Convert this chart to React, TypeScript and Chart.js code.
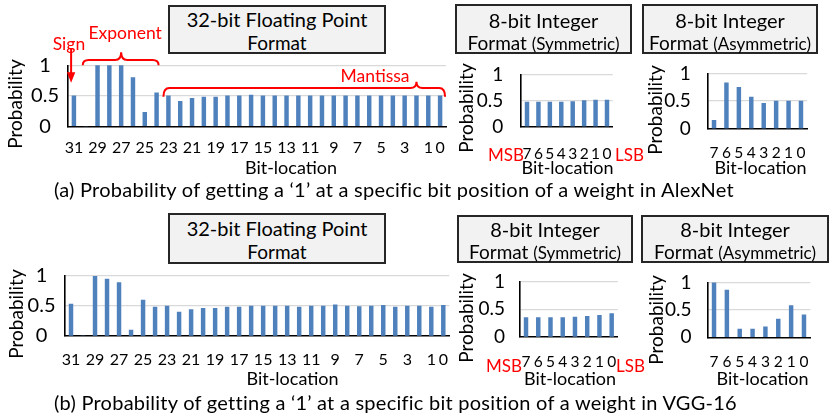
import React, { useEffect, useRef } from 'react';
import { Chart, registerables } from 'chart.js';

Chart.register(...registerables);

const FONT = 'Lato, "Open Sans", "DejaVu Sans", sans-serif';
const BAR = '#4f81bd';
const GRID = '#d9d9d9';
const RED = '#ff0000';

// ---------- data ----------
const fpBits = ['31', '30', '29', '28', '27', '26', '25', '24', '23', '22', '21', '20', '19', '18', '17', '16',
  '15', '14', '13', '12', '11', '10', '9', '8', '7', '6', '5', '4', '3', '2', '1', '0'];
const fpShownTicks = ['31', '29', '27', '25', '23', '21', '19', '17', '15', '13', '11', '9', '7', '5', '3', '1', '0'];
const intBits = ['7', '6', '5', '4', '3', '2', '1', '0'];
const yTickValues = [0, 0.5, 1];
const yTickLabels = ['0', '0.5', '1'];

const alexNetFp32 = [0.5, 0, 1, 1, 1, 0.8, 0.23, 0.55, 0.5, 0.41, 0.46, 0.48, 0.48, 0.5, 0.5, 0.51,
  0.5, 0.5, 0.5, 0.5, 0.5, 0.5, 0.5, 0.5, 0.5, 0.5, 0.5, 0.5, 0.5, 0.5, 0.5, 0.5];
const alexNetSym = [0.47, 0.47, 0.47, 0.47, 0.48, 0.5, 0.51, 0.51];
const alexNetAsym = [0.15, 0.83, 0.75, 0.57, 0.46, 0.5, 0.5, 0.5];

const vggFp32 = [0.53, 0, 1, 0.95, 0.89, 0.1, 0.6, 0.48, 0.5, 0.4, 0.44, 0.46, 0.46, 0.48, 0.48, 0.5,
  0.5, 0.5, 0.5, 0.48, 0.5, 0.5, 0.52, 0.5, 0.49, 0.5, 0.51, 0.48, 0.5, 0.5, 0.48, 0.51];
const vggSym = [0.35, 0.35, 0.35, 0.35, 0.36, 0.37, 0.39, 0.42];
const vggAsym = [1, 0.86, 0.15, 0.15, 0.19, 0.33, 0.58, 0.41];

// ---------- helpers ----------
type Box = { left: number; top: number; width: number; height: number };
type Plot = { left: number; top: number; right: number; bottom: number };
interface BarSpec {
  labels: string[];
  values: number[];
  shown: string[];
  canvas: Box;
  plot: Plot;
  xFont: number;
  xLabelOffset: number;
  yFont: number;
  yPad: number;
  yAlign: 'center' | 'near';
  extra?: any[];
}

const fpAnnotations = {
  id: 'fpAnnotations',
  afterDraw(chart: any) {
    const { ctx, chartArea, scales } = chart;
    const px = (bit: string) => scales.x.getPixelForValue(fpBits.indexOf(bit));
    const top = chartArea.top;
    ctx.save();
    ctx.strokeStyle = RED;
    ctx.fillStyle = RED;
    ctx.lineWidth = 2;
    const brace = (x0: number, x1: number, xm: number, yLine: number, yEnd: number, yTip: number) => {
      const r = 6;
      ctx.beginPath();
      ctx.moveTo(x0, yEnd);
      ctx.quadraticCurveTo(x0, yLine, x0 + r, yLine);
      ctx.lineTo(xm - r, yLine);
      ctx.quadraticCurveTo(xm, yLine, xm, yTip);
      ctx.quadraticCurveTo(xm, yLine, xm + r, yLine);
      ctx.lineTo(x1 - r, yLine);
      ctx.quadraticCurveTo(x1, yLine, x1, yEnd);
      ctx.stroke();
    };
    brace(px('30') - 3, px('24') + 2, px('27'), top - 5.3, top, top - 13);
    brace(px('23') - 5, px('0') + 5, px('2'), top + 22.8, top + 31.5, top + 16.5);

    ctx.font = `17.5px ${FONT}`;
    ctx.textAlign = 'center';
    ctx.textBaseline = 'middle';
    ctx.fillText('Exponent', px('27') + 4, top - 32);
    ctx.fillText('Mantissa', px('5') - 6, top + 11.5);
    ctx.fillText('Sign', px('31') - 5, top - 21);

    const ax = px('31') - 2.8;
    ctx.beginPath();
    ctx.moveTo(ax, top - 17);
    ctx.lineTo(ax, top + 8);
    ctx.stroke();
    ctx.beginPath();
    ctx.moveTo(ax - 4.2, top + 7);
    ctx.lineTo(ax + 4.2, top + 7);
    ctx.lineTo(ax, top + 17.5);
    ctx.closePath();
    ctx.fill();
    ctx.restore();
  },
};

function BarPanel({ spec }: { spec: BarSpec }) {
  const ref = useRef<HTMLCanvasElement>(null);
  const c = spec.canvas;
  const p = spec.plot;
  useEffect(() => {
    const canvas = ref.current;
    if (!canvas) return;
    const chart = new Chart(canvas, {
      type: 'bar',
      data: {
        labels: spec.labels,
        datasets: [
          {
            data: spec.values,
            backgroundColor: BAR,
            borderWidth: 0,
            barThickness: 3.8,
            categoryPercentage: 1,
          },
        ],
      },
      options: {
        animation: false,
        responsive: false,
        maintainAspectRatio: false,
        events: [],
        layout: {
          padding: {
            left: 0,
            bottom: 0,
            top: p.top - c.top,
            right: c.left + c.width - p.right,
          },
        },
        plugins: {
          legend: { display: false },
          tooltip: { enabled: false },
          title: { display: false },
        },
        scales: {
          x: {
            grid: { display: false, drawTicks: false },
            border: { display: true, color: '#000', width: 1.6 },
            ticks: {
              autoSkip: false,
              maxRotation: 0,
              minRotation: 0,
              padding: spec.xLabelOffset - 0.6 * spec.xFont,
              color: '#000',
              font: { family: FONT, size: spec.xFont },
              callback: (_v: any, i: number) => {
                const l = spec.labels[i];
                return spec.shown.includes(l) ? l : '';
              },
            },
            afterFit: (s: any) => {
              s.height = c.top + c.height - p.bottom;
            },
          },
          y: {
            min: 0,
            max: 1,
            afterBuildTicks: (s: any) => {
              s.ticks = yTickValues.map((v) => ({ value: v }));
            },
            grid: {
              drawTicks: false,
              lineWidth: 1.3,
              color: (ctx: any) => (ctx.tick && ctx.tick.value === 0 ? 'rgba(0,0,0,0)' : GRID),
            },
            border: { display: true, color: '#000', width: 1.6 },
            ticks: {
              padding: spec.yPad,
              crossAlign: spec.yAlign,
              color: '#000',
              font: { family: FONT, size: spec.yFont },
              callback: (v: any) => yTickLabels[yTickValues.indexOf(Number(v))],
            },
            afterFit: (s: any) => {
              s.width = p.left - c.left;
            },
          },
        },
      },
      plugins: spec.extra || [],
    } as any);
    return () => chart.destroy();
  }, [spec]);
  return (
    <canvas
      ref={ref}
      width={c.width}
      height={c.height}
      style={{ position: 'absolute', left: c.left, top: c.top, width: c.width, height: c.height }}
    />
  );
}

const specs: BarSpec[] = [
  {
    labels: fpBits, values: alexNetFp32, shown: fpShownTicks,
    canvas: { left: 0, top: 20, width: 462, height: 155 },
    plot: { left: 68, top: 65.3, right: 446, bottom: 126.3 },
    xFont: 16, xLabelOffset: 21.2, yFont: 20, yPad: 9, yAlign: 'center', extra: [fpAnnotations],
  },
  {
    labels: intBits, values: alexNetSym, shown: intBits,
    canvas: { left: 470, top: 45, width: 165, height: 130 },
    plot: { left: 521.3, top: 65, right: 612.7, bottom: 126.7 },
    xFont: 15.5, xLabelOffset: 27.3, yFont: 19, yPad: 18, yAlign: 'near',
  },
  {
    labels: intBits, values: alexNetAsym, shown: intBits,
    canvas: { left: 650, top: 45, width: 178, height: 130 },
    plot: { left: 707.8, top: 68.5, right: 807.2, bottom: 128.7 },
    xFont: 15.5, xLabelOffset: 23.8, yFont: 19, yPad: 17, yAlign: 'near',
  },
  {
    labels: fpBits, values: vggFp32, shown: fpShownTicks,
    canvas: { left: 0, top: 250, width: 465, height: 135 },
    plot: { left: 65, top: 276, right: 449.3, bottom: 336 },
    xFont: 16, xLabelOffset: 23.5, yFont: 20, yPad: 9.5, yAlign: 'center',
  },
  {
    labels: intBits, values: vggSym, shown: intBits,
    canvas: { left: 468, top: 255, width: 165, height: 130 },
    plot: { left: 519.9, top: 277, right: 617.8, bottom: 337 },
    xFont: 15.5, xLabelOffset: 24.5, yFont: 19, yPad: 15, yAlign: 'near',
  },
  {
    labels: intBits, values: vggAsym, shown: intBits,
    canvas: { left: 650, top: 255, width: 180, height: 130 },
    plot: { left: 707.6, top: 277, right: 810.4, bottom: 337.3 },
    xFont: 15.5, xLabelOffset: 24.5, yFont: 19, yPad: 16, yAlign: 'near',
  },
];

function T({ x, y, size, color = '#000', rotate = false, align = 'center', spacing = 0, children }: any) {
  return (
    <div
      style={{
        position: 'absolute',
        left: x,
        top: y,
        transform: `translate(${align === 'center' ? '-50%' : '0'}, -50%)${rotate ? ' rotate(-90deg)' : ''}`,
        fontFamily: FONT,
        fontSize: size,
        letterSpacing: spacing,
        color,
        whiteSpace: 'nowrap',
        lineHeight: 1.2,
        zIndex: 3,
      }}
    >
      {children}
    </div>
  );
}

function TitleBox({ left, top, width, height }: any) {
  return (
    <div
      style={{
        position: 'absolute',
        left,
        top,
        width,
        height,
        boxSizing: 'border-box',
        border: '2px solid #262626',
        background: '#f2f2f2',
        zIndex: 2,
      }}
    />
  );
}

export default function App() {
  return (
    <div
      style={{
        position: 'absolute',
        left: 0,
        top: 0,
        width: 831,
        height: 418,
        overflow: 'hidden',
        background: '#fff',
      }}
    >
      {specs.map((s, i) => (
        <BarPanel key={i} spec={s} />
      ))}

      {/* title boxes */}
      <TitleBox left={168} top={5} width={218} height={49} />
      <T x={277} y={19} size={20}>32-bit Floating Point</T>
      <T x={277} y={42.5} size={19}>Format</T>

      <TitleBox left={455} top={4} width={177} height={50} />
      <T x={543.5} y={20} size={20}>8-bit Integer</T>
      <T x={543.5} y={42.5} size={19}>Format <span style={{ fontSize: 17 }}>(Symmetric)</span></T>

      <TitleBox left={642} top={4} width={176} height={50} />
      <T x={730} y={20} size={20}>8-bit Integer</T>
      <T x={730} y={42.5} size={19}>Format <span style={{ fontSize: 17 }}>(Asymmetric)</span></T>

      <TitleBox left={168} top={213} width={218} height={51} />
      <T x={277} y={228} size={20}>32-bit Floating Point</T>
      <T x={277} y={252} size={19}>Format</T>

      <TitleBox left={457} top={215} width={176} height={48} />
      <T x={545} y={229} size={20}>8-bit Integer</T>
      <T x={545} y={252} size={19}>Format <span style={{ fontSize: 17 }}>(Symmetric)</span></T>

      <TitleBox left={641} top={215} width={188} height={48} />
      <T x={735} y={229} size={20}>8-bit Integer</T>
      <T x={735} y={252} size={19}>Format <span style={{ fontSize: 17 }}>(Asymmetric)</span></T>

      {/* axis titles */}
      <T x={14.5} y={104} size={19} rotate>Probability</T>
      <T x={466} y={108} size={19} rotate>Probability</T>
      <T x={654.5} y={110} size={19} rotate>Probability</T>
      <T x={15.5} y={314} size={19} rotate>Probability</T>
      <T x={466} y={318} size={19} rotate>Probability</T>
      <T x={655.5} y={320} size={19} rotate>Probability</T>

      <T x={291} y={168} size={18}>Bit-location</T>
      <T x={567.5} y={168} size={18}>Bit-location</T>
      <T x={760.5} y={168} size={18}>Bit-location</T>
      <T x={292.5} y={379} size={18}>Bit-location</T>
      <T x={570} y={379} size={18}>Bit-location</T>
      <T x={762.5} y={379} size={18}>Bit-location</T>

      <T x={506} y={155} size={17} color={RED}>MSB</T>
      <T x={629.5} y={155} size={17} color={RED}>LSB</T>
      <T x={504} y={365.5} size={17} color={RED}>MSB</T>
      <T x={630.5} y={365.5} size={17} color={RED}>LSB</T>

      {/* captions */}
      <T x={54} y={189} size={20} spacing={0.25} align="left">
        (a) Probability of getting a ‘1’ at a specific bit position of a weight in AlexNet
      </T>
      <T x={54} y={402} size={20} spacing={0.25} align="left">
        (b) Probability of getting a ‘1’ at a specific bit position of a weight in VGG-16
      </T>
    </div>
  );
}
